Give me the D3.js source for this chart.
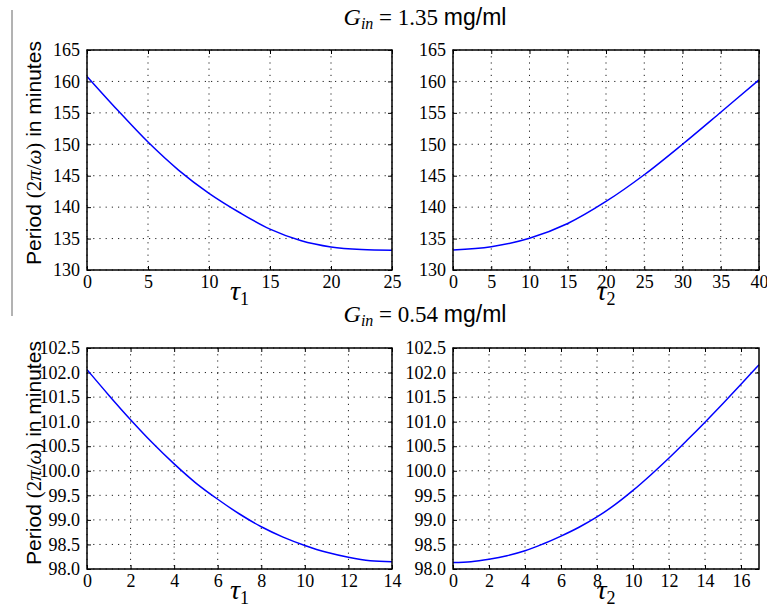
<!DOCTYPE html>
<html><head><meta charset="utf-8">
<script src="https://cdn.jsdelivr.net/npm/d3@7"></script>
<style>body{margin:0;background:#fff}svg{display:block}</style>
</head><body>
<script>
// ---- data ----
const tau1Top = [0, 2.5, 5, 7.5, 10, 12.5, 15, 17.5, 20, 22.5, 25];
const periodTau1Top = [160.8, 155.45, 150.35, 145.9, 142.2, 139.15, 136.5, 134.7, 133.67, 133.25, 133.15];
const tau2Top = [0, 5, 10, 15, 20, 25, 30, 35, 40];
const periodTau2Top = [133.19, 133.7, 135.05, 137.4, 140.9, 145.15, 150.0, 155.1, 160.25];
const tau1Bot = [0,1,2,3,4,5,6,7,8,9,10,11,12,13,14];
const periodTau1Bot = [102.06, 101.54, 101.04, 100.57, 100.14, 99.75, 99.42, 99.12, 98.86, 98.65, 98.48, 98.34, 98.24, 98.17, 98.15];
const tau2Bot = [0,1,2,3,4,5,6,7,8,9,10,11,12,13,14,15,16,17];
const periodTau2Bot = [98.13, 98.15, 98.2, 98.27, 98.37, 98.51, 98.67, 98.85, 99.06, 99.31, 99.6, 99.92, 100.26, 100.62, 100.99, 101.37, 101.76, 102.16];

const xTicksT1Top = [0,5,10,15,20,25];
const xTicksT2Top = [0,5,10,15,20,25,30,35,40];
const yTicksTop = [130,135,140,145,150,155,160,165];
const xTicksT1Bot = [0,2,4,6,8,10,12,14];
const xTicksT2Bot = [0,2,4,6,8,10,12,14,16];
const yTicksBot = [98.0,98.5,99.0,99.5,100.0,100.5,101.0,101.5,102.0,102.5];
const titles = ["1.35", "0.54"];

const W = 767, H = 608;
const svg = d3.select("body").append("svg").attr("width", W).attr("height", H);
const SERIF = "'Liberation Serif', 'DejaVu Serif', serif";
const SANS = "'Liberation Sans', Arial, sans-serif";

// decorative left rule
svg.append("line").attr("x1",12).attr("x2",12).attr("y1",10).attr("y2",316)
  .attr("stroke","#666").attr("stroke-width",1);

function panel(o){
  const x = d3.scaleLinear().domain(o.xdom).range([o.x0, o.x1]);
  const y = d3.scaleLinear().domain(o.ydom).range([o.y1, o.y0]);
  const g = svg.append("g");
  // grid
  g.append("g").selectAll("line").data(o.xt).join("line")
    .attr("x1", d=>x(d)).attr("x2", d=>x(d)).attr("y1", o.y0).attr("y2", o.y1)
    .attr("stroke","#222").attr("stroke-width",1).attr("stroke-dasharray","1.2,5");
  g.append("g").selectAll("line").data(o.yt).join("line")
    .attr("y1", d=>y(d)).attr("y2", d=>y(d)).attr("x1", o.x0).attr("x2", o.x1)
    .attr("stroke","#222").attr("stroke-width",1).attr("stroke-dasharray","1.2,5");
  // axes via d3
  const ax = g.append("g").attr("transform",`translate(0,${o.y1})`)
    .call(d3.axisBottom(x).tickValues(o.xt).tickSize(-4).tickPadding(5).tickFormat(d3.format("d")));
  const ay = g.append("g").attr("transform",`translate(${o.x0},0)`)
    .call(d3.axisLeft(y).tickValues(o.yt).tickSize(-4).tickPadding(7).tickFormat(o.fmt));
  const axT = g.append("g").attr("transform",`translate(0,${o.y0})`)
    .call(d3.axisTop(x).tickValues(o.xt).tickSize(-4).tickFormat(""));
  const ayR = g.append("g").attr("transform",`translate(${o.x1},0)`)
    .call(d3.axisRight(y).tickValues(o.yt).tickSize(-4).tickFormat(""));
  [ax,ay,axT,ayR].forEach(a=>{
    a.select(".domain").remove();
    a.selectAll("line").attr("stroke","#000");
    a.selectAll("text").style("font-family",SERIF).style("font-size","18px").attr("fill","#000");
  });
  ax.selectAll("text").attr("dy","0.72em");
  // curve
  const pts = o.xs.map((v,i)=>[v,o.ys[i]]);
  g.append("path").datum(pts)
    .attr("d", d3.line().x(d=>x(d[0])).y(d=>y(d[1])).curve(d3.curveCatmullRom))
    .attr("fill","none").attr("stroke","#0000ff").attr("stroke-width",1.5);
  // frame
  g.append("rect").attr("x",o.x0).attr("y",o.y0).attr("width",o.x1-o.x0).attr("height",o.y1-o.y0)
    .attr("fill","none").attr("stroke","#000").attr("stroke-width",1.5);
  // x label tau
  const t = g.append("text").attr("x",(o.x0+o.x1)/2).attr("y",o.xlabY)
    .attr("text-anchor","middle").style("font-family",SERIF).attr("fill","#000");
  t.append("tspan").style("font-style","italic").style("font-size","28px").text("τ");
  t.append("tspan").style("font-size","18px").attr("dy",5).text(o.sub);
}

const fmtTop = d3.format("d"), fmtBot = d3.format(".1f");
const L = {x0:87, x1:392}, R = {x0:453, x1:759};
const TOP = {y0:50, y1:270, lab:300}, BOT = {y0:348, y1:569, lab:599};

panel({...L, y0:TOP.y0, y1:TOP.y1, xlabY:TOP.lab, xdom:[0,25], ydom:[130,165], xt:xTicksT1Top, yt:yTicksTop, fmt:fmtTop, xs:tau1Top, ys:periodTau1Top, sub:"1"});
panel({...R, y0:TOP.y0, y1:TOP.y1, xlabY:TOP.lab, xdom:[0,40], ydom:[130,165], xt:xTicksT2Top, yt:yTicksTop, fmt:fmtTop, xs:tau2Top, ys:periodTau2Top, sub:"2"});
panel({...L, y0:BOT.y0, y1:BOT.y1, xlabY:BOT.lab, xdom:[0,14], ydom:[98,102.5], xt:xTicksT1Bot, yt:yTicksBot, fmt:fmtBot, xs:tau1Bot, ys:periodTau1Bot, sub:"1"});
panel({...R, y0:BOT.y0, y1:BOT.y1, xlabY:BOT.lab, xdom:[0,17], ydom:[98,102.5], xt:xTicksT2Bot, yt:yTicksBot, fmt:fmtBot, xs:tau2Bot, ys:periodTau2Bot, sub:"2"});

// titles
[[25, titles[0]], [322, titles[1]]].forEach(([yb, val])=>{
  const t = svg.append("text").attr("x",425).attr("y",yb).attr("text-anchor","middle").attr("fill","#000");
  t.append("tspan").style("font-family",SERIF).style("font-style","italic").style("font-size","24px").text("G");
  t.append("tspan").style("font-family",SERIF).style("font-style","italic").style("font-size","16px").attr("dy",4).text("in");
  t.append("tspan").style("font-family",SERIF).style("font-size","23px").attr("dy",-4).text(" = " + val + " ");
  t.append("tspan").style("font-family",SANS).style("font-size","23px").text("mg/ml");
});

// y labels
[153, 453].forEach(cy=>{
  const t = svg.append("text").attr("transform",`translate(41,${cy}) rotate(-90)`)
    .attr("text-anchor","middle").attr("fill","#000").style("font-size","21px");
  t.append("tspan").style("font-family",SANS).text("Period ");
  t.append("tspan").style("font-family",SERIF).text("(2");
  t.append("tspan").style("font-family",SERIF).style("font-style","italic").text("π");
  t.append("tspan").style("font-family",SERIF).text("/");
  t.append("tspan").style("font-family",SERIF).style("font-style","italic").text("ω");
  t.append("tspan").style("font-family",SERIF).text(")");
  t.append("tspan").style("font-family",SANS).text(" in minutes");
});
</script>
</body></html>
